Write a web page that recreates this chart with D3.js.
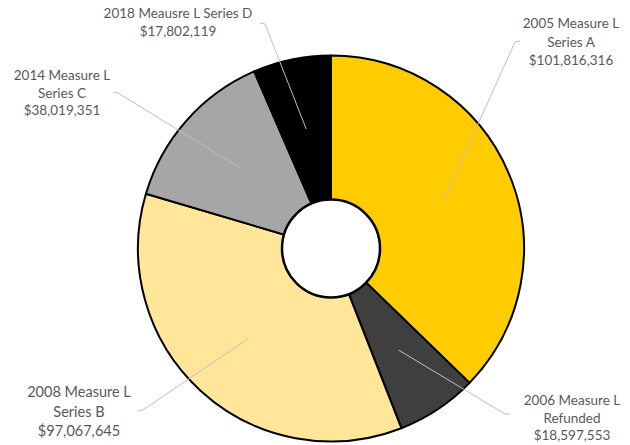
<!DOCTYPE html>
<html>
<head>
<meta charset="utf-8">
<script src="https://cdn.jsdelivr.net/npm/d3@7"></script>
<style>
  html, body { margin: 0; padding: 0; background: #fff; }
  svg { display: block; }
  text { font-family: Lato, "Open Sans", sans-serif; fill: #595959; }
</style>
</head>
<body>
<svg id="chart" width="630" height="445"></svg>
<script>
// ---- data ----
const categories = [
  "2005 Measure L Series A",
  "2006 Measure L Refunded",
  "2008 Measure L Series B",
  "2014 Measure L Series C",
  "2018 Meausre L Series D"
];
const values = [101816316, 18597553, 97067645, 38019351, 17802119];
const labelLines = [
  ["2005 Measure L", "Series A"],
  ["2006 Measure L", "Refunded"],
  ["2008 Measure L", "Series B"],
  ["2014 Measure L", "Series C"],
  ["2018 Meausre L Series D"]
];
const colors = ["#FFCC00", "#3F3F3F", "#FFE699", "#A6A6A6", "#000000"];

// ---- layout ----
const cx = 331, cy = 248.5, R = 193, holeR = 49, leaderR = 122;
const labelLayout = [
  { x: 571, y: 28,  lh: 18.5, fs: 13.5, elbow: [515, 42],  end: [520, 41] },
  { x: 572, y: 405, lh: 17.5, fs: 13.5, elbow: [505, 414], end: [510, 414] },
  { x: 79,  y: 397, lh: 19.5, fs: 14.5, elbow: [143, 410], end: [138, 411] },
  { x: 62,  y: 80,  lh: 17.5, fs: 13.5, elbow: [118, 93],  end: [113, 92] },
  { x: 178, y: 18,  lh: 17.5, fs: 13.5, elbow: [265, 24],  end: [260, 23] }
];

const fmt = d3.format("$,");
const data = categories.map((c, i) => ({ name: c, value: values[i], i }));

const svg = d3.select("#chart");
const g = svg.append("g").attr("transform", `translate(${cx},${cy})`);

const pie = d3.pie().sort(null).value(d => d.value).startAngle(0).endAngle(2 * Math.PI);
const arcs = pie(data);
const arc = d3.arc().innerRadius(0).outerRadius(R);
const leaderArc = d3.arc().innerRadius(leaderR).outerRadius(leaderR);

g.selectAll("path.slice")
  .data(arcs)
  .join("path")
  .attr("class", "slice")
  .attr("d", arc)
  .attr("fill", d => colors[d.data.i])
  .attr("stroke", "#000")
  .attr("stroke-width", 2)
  .attr("stroke-linejoin", "round");

// leader lines
g.selectAll("polyline.leader")
  .data(arcs)
  .join("polyline")
  .attr("class", "leader")
  .attr("fill", "none")
  .attr("stroke", "#BFBFBF")
  .attr("stroke-width", 1)
  .attr("points", d => {
    const L = labelLayout[d.data.i];
    const p = leaderArc.centroid(d);
    return [p, [L.elbow[0] - cx, L.elbow[1] - cy], [L.end[0] - cx, L.end[1] - cy]]
      .map(q => q.join(",")).join(" ");
  });

// hole
g.append("circle")
  .attr("r", holeR)
  .attr("fill", "#fff")
  .attr("stroke", "#000")
  .attr("stroke-width", 2.5);

// labels
const labels = svg.selectAll("text.lbl")
  .data(data)
  .join("text")
  .attr("class", "lbl")
  .attr("text-anchor", "middle")
  .style("font-size", d => labelLayout[d.i].fs + "px");

labels.each(function(d) {
  const L = labelLayout[d.i];
  const lines = labelLines[d.i].concat([fmt(d.value)]);
  d3.select(this).selectAll("tspan")
    .data(lines)
    .join("tspan")
    .attr("x", L.x)
    .attr("y", (t, k) => L.y + k * L.lh)
    .text(t => t);
});
</script>
</body>
</html>
